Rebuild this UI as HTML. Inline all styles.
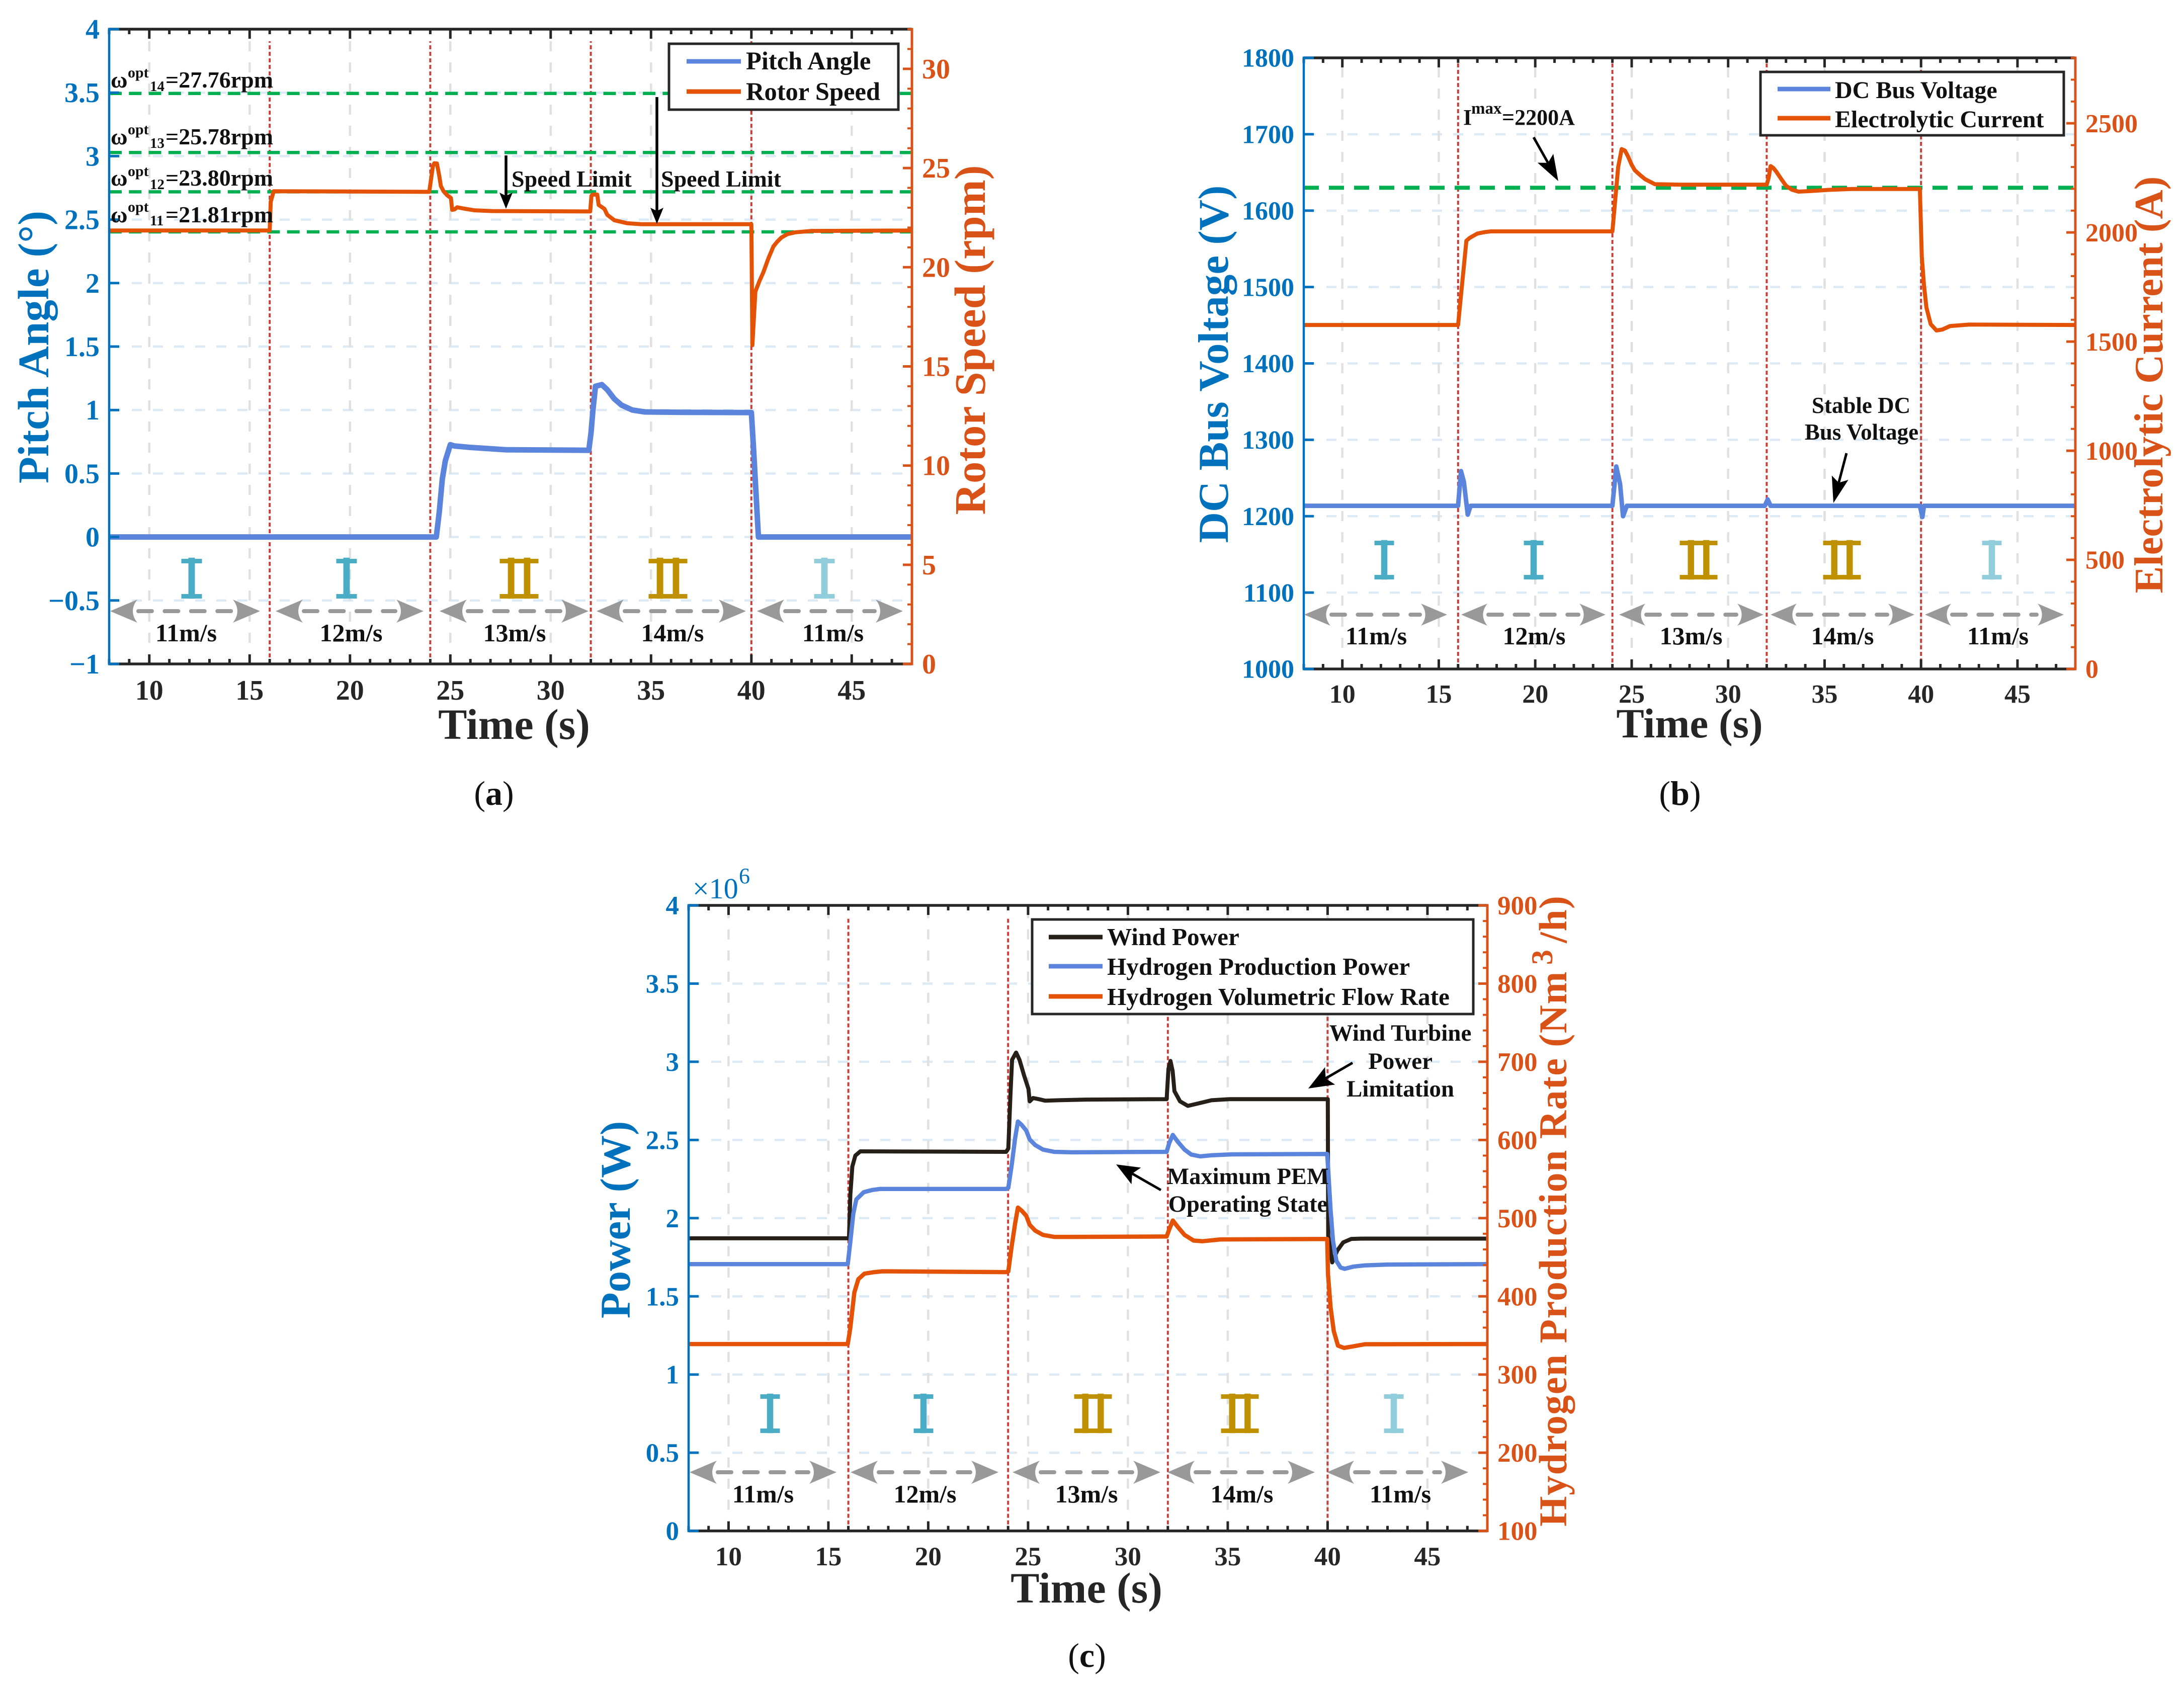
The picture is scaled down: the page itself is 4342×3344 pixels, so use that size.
<!DOCTYPE html>
<html lang="en">
<head>
<meta charset="utf-8">
<title>Wind turbine and hydrogen production response</title>
<style>
html,body{margin:0;padding:0;background:#fff;}
svg{display:block;}
text{font-family:"Liberation Serif","Noto Sans CJK SC",serif;}
.leg{font-weight:bold;fill:#111;font-size:50.5px;}
.anno{font-weight:bold;fill:#111;font-size:46px;}
.spd{font-weight:bold;fill:#111;font-size:50px;text-anchor:middle;}
.time{font-weight:bold;fill:#262626;font-size:86px;text-anchor:middle;}
.yl{font-weight:bold;fill:#0072BD;font-size:87px;text-anchor:middle;}
.yr{font-weight:bold;fill:#D95319;font-size:87px;text-anchor:middle;}
.cap{fill:#111;font-size:68px;text-anchor:middle;}
.reg{font-family:"Noto Sans CJK SC",sans-serif;font-size:108px;text-anchor:middle;stroke-width:2.5px;}
.reg.small{font-size:104px;}
</style>
</head>
<body>
<svg id="figure" xmlns="http://www.w3.org/2000/svg" width="4342" height="3344" viewBox="0 0 4342 3344">
<rect width="4342" height="3344" fill="#fff"/>

<!-- PANEL A -->
<g>
  <g id="marks-a"></g>
  <g id="anno-a"></g>
  <g>
    <rect x="1330" y="87" width="456" height="131" fill="#fff" stroke="#262626" stroke-width="5"/>
    <line x1="1365" x2="1473" y1="122" y2="122" stroke="#5B84DC" stroke-width="9"/>
    <line x1="1365" x2="1473" y1="182" y2="182" stroke="#E35205" stroke-width="9"/>
    <text class="leg" x="1483" y="138">Pitch Angle</text>
    <text class="leg" x="1483" y="199">Rotor Speed</text>
  </g>
  <text class="anno" y="174"><tspan x="220">ω</tspan><tspan x="254" y="154" font-size="30">opt</tspan><tspan x="298" y="181" font-size="29">14</tspan><tspan x="329" y="174">=27.76rpm</tspan></text>
  <text class="anno" y="287"><tspan x="220">ω</tspan><tspan x="254" y="267" font-size="30">opt</tspan><tspan x="298" y="294" font-size="29">13</tspan><tspan x="329" y="287">=25.78rpm</tspan></text>
  <text class="anno" y="369"><tspan x="220">ω</tspan><tspan x="254" y="350" font-size="30">opt</tspan><tspan x="298" y="376" font-size="29">12</tspan><tspan x="329" y="369">=23.80rpm</tspan></text>
  <text class="anno" y="442"><tspan x="220">ω</tspan><tspan x="254" y="421" font-size="30">opt</tspan><tspan x="298" y="448" font-size="29">11</tspan><tspan x="329" y="442">=21.81rpm</tspan></text>
  <text class="anno" x="1017" y="371">Speed Limit</text>
  <text class="anno" x="1314" y="371">Speed Limit</text>
  <text class="reg" fill="#4BACC6" stroke="#4BACC6" x="381" y="1189">Ⅰ</text>
  <text class="reg" fill="#4BACC6" stroke="#4BACC6" x="689" y="1189">Ⅰ</text>
  <text class="reg" fill="#BF9000" stroke="#BF9000" x="1032" y="1189">Ⅱ</text>
  <text class="reg" fill="#BF9000" stroke="#BF9000" x="1328" y="1189">Ⅱ</text>
  <text class="reg" fill="#92CDDC" stroke="#92CDDC" x="1639" y="1189">Ⅰ</text>
  <text class="spd" x="370" y="1275">11m/s</text>
  <text class="spd" x="698" y="1275">12m/s</text>
  <text class="spd" x="1023" y="1275">13m/s</text>
  <text class="spd" x="1337" y="1275">14m/s</text>
  <text class="spd" x="1656" y="1275">11m/s</text>
  <text class="time" x="1022" y="1469">Time (s)</text>
  <text class="yl" transform="translate(96,690) rotate(-90)">Pitch Angle (°)</text>
  <text class="yr" transform="translate(1958,676) rotate(-90)" textLength="695" lengthAdjust="spacingAndGlyphs">Rotor Speed (rpm)</text>
  <text class="cap" x="982" y="1600">(<tspan font-weight="bold">a</tspan>)</text>
</g>

<!-- PANEL B -->
<g>
  <g id="marks-b"></g>
  <g id="anno-b"></g>
  <g>
    <rect x="3500" y="143" width="603" height="126" fill="#fff" stroke="#262626" stroke-width="5"/>
    <line x1="3534" x2="3639" y1="177" y2="177" stroke="#5B84DC" stroke-width="9"/>
    <line x1="3534" x2="3639" y1="235" y2="235" stroke="#E35205" stroke-width="9"/>
    <text class="leg" style="font-size:48px" x="3648" y="195">DC Bus Voltage</text>
    <text class="leg" style="font-size:48px" x="3648" y="253">Electrolytic Current</text>
  </g>
  <text class="anno" style="font-size:44px" y="248"><tspan x="2909">I</tspan><tspan x="2925" y="226" font-size="33">max</tspan><tspan x="2986" y="248">=2200A</tspan></text>
  <text class="anno" style="font-size:45px" x="3700" y="821" text-anchor="middle">Stable DC</text>
  <text class="anno" style="font-size:45px" x="3701" y="874" text-anchor="middle">Bus Voltage</text>
  <text class="reg small" fill="#4BACC6" stroke="#4BACC6" x="2752" y="1151">Ⅰ</text>
  <text class="reg small" fill="#4BACC6" stroke="#4BACC6" x="3049" y="1151">Ⅰ</text>
  <text class="reg small" fill="#BF9000" stroke="#BF9000" x="3377" y="1151">Ⅱ</text>
  <text class="reg small" fill="#BF9000" stroke="#BF9000" x="3662" y="1151">Ⅱ</text>
  <text class="reg small" fill="#92CDDC" stroke="#92CDDC" x="3960" y="1151">Ⅰ</text>
  <text class="spd" x="2736" y="1281">11m/s</text>
  <text class="spd" x="3050" y="1281">12m/s</text>
  <text class="spd" x="3362" y="1281">13m/s</text>
  <text class="spd" x="3663" y="1281">14m/s</text>
  <text class="spd" x="3972" y="1281">11m/s</text>
  <text class="time" style="font-size:83px" x="3359" y="1466">Time (s)</text>
  <text class="yl" style="font-size:85px" transform="translate(2441,724) rotate(-90)">DC Bus Voltage (V)</text>
  <text class="yr" style="font-size:80px" transform="translate(4299,765) rotate(-90)" textLength="829" lengthAdjust="spacingAndGlyphs">Electrolytic Current (A)</text>
  <text class="cap" x="3340" y="1600">(<tspan font-weight="bold">b</tspan>)</text>
</g>

<!-- PANEL C -->
<g>
  <g id="marks-c"></g>
  <g id="anno-c"></g>
  <g>
    <rect x="2052" y="1828" width="877" height="188" fill="#fff" stroke="#262626" stroke-width="5"/>
    <line x1="2085" x2="2192" y1="1863" y2="1863" stroke="#262019" stroke-width="9"/>
    <line x1="2085" x2="2192" y1="1921" y2="1921" stroke="#5B84DC" stroke-width="9"/>
    <line x1="2085" x2="2192" y1="1981" y2="1981" stroke="#E35205" stroke-width="9"/>
    <text class="leg" style="font-size:49.2px" x="2201" y="1879">Wind Power</text>
    <text class="leg" style="font-size:49.2px" x="2201" y="1938">Hydrogen Production Power</text>
    <text class="leg" style="font-size:49.2px" x="2201" y="1998">Hydrogen Volumetric Flow Rate</text>
  </g>
  <text font-size="58" fill="#0072BD" y="1786"><tspan x="1377">×10</tspan><tspan x="1469" y="1756" font-size="44">6</tspan></text>
  <text class="anno" style="font-size:47px" x="2784" y="2069" text-anchor="middle">Wind Turbine</text>
  <text class="anno" style="font-size:47px" x="2784" y="2125" text-anchor="middle">Power</text>
  <text class="anno" style="font-size:47px" x="2784" y="2180" text-anchor="middle">Limitation</text>
  <text class="anno" style="font-size:46.5px" x="2481" y="2354" text-anchor="middle">Maximum PEM</text>
  <text class="anno" style="font-size:46.5px" x="2481" y="2409" text-anchor="middle">Operating State</text>
  <text class="reg small" fill="#4BACC6" stroke="#4BACC6" x="1531" y="2848">Ⅰ</text>
  <text class="reg small" fill="#4BACC6" stroke="#4BACC6" x="1836" y="2848">Ⅰ</text>
  <text class="reg small" fill="#BF9000" stroke="#BF9000" x="2173" y="2848">Ⅱ</text>
  <text class="reg small" fill="#BF9000" stroke="#BF9000" x="2465" y="2848">Ⅱ</text>
  <text class="reg small" fill="#92CDDC" stroke="#92CDDC" x="2771" y="2848">Ⅰ</text>
  <text class="spd" x="1517" y="2987">11m/s</text>
  <text class="spd" x="1839" y="2987">12m/s</text>
  <text class="spd" x="2160" y="2987">13m/s</text>
  <text class="spd" x="2469" y="2987">14m/s</text>
  <text class="spd" x="2784" y="2987">11m/s</text>
  <text class="time" x="2160" y="3186">Time (s)</text>
  <text class="yl" style="font-size:85px" transform="translate(1252,2425) rotate(-90)">Power (W)</text>
  <text class="yr" style="font-size:78px" transform="translate(3114,2408) rotate(-90)" textLength="1254">Hydrogen Production Rate (Nm<tspan dx="12" dy="-28" font-size="60">3</tspan><tspan dx="12" dy="28">/h)</tspan></text>
  <text class="cap" x="2161" y="3314">(<tspan font-weight="bold">c</tspan>)</text>
</g>
</svg>

<script>
/* ---------- shared axis data ---------- */
const timeDomain = [8, 48];
const timeTickLabels = [10, 15, 20, 25, 30, 35, 40, 45];
const switchTimes = [16, 24, 32, 40];

/* ---------- panel (a) data ---------- */
const pitchDomain = [-1, 4];
const pitchTickValues = [-1, -0.5, 0, 0.5, 1, 1.5, 2, 2.5, 3, 3.5, 4];
const rotorDomain = [0, 32];
const rotorTickValues = [0, 5, 10, 15, 20, 25, 30];
const rotorReferenceLevels = [21.78, 23.80, 25.78, 28.76];
const pitchTime = [8, 24.3, 24.45, 24.6, 24.75, 24.92, 25, 25.2, 25.9, 27.8, 31.9, 32.01, 32.1, 32.23, 32.55, 32.82, 33.17, 33.53, 34.07, 34.7, 36.65, 40, 40.1, 40.35, 48];
const pitchValues = [0, 0, 0.2, 0.455, 0.6, 0.687, 0.727, 0.717, 0.707, 0.687, 0.683, 0.82, 0.99, 1.187, 1.2, 1.16, 1.088, 1.039, 1.0, 0.985, 0.982, 0.98, 0.72, 0, 0];
const rotorTime = [8, 16, 16.05, 16.2, 23.95, 24.13, 24.2, 24.33, 24.45, 24.53, 24.67, 24.85, 25.03, 25.09, 25.22, 25.34, 25.65, 26.19, 27.09, 31.97, 32.03, 32.1, 32.32, 32.39, 32.68, 32.82, 33.17, 33.8, 34.5, 40, 40.05, 40.2, 40.4, 40.6, 40.85, 41.1, 41.3, 41.5, 41.8, 42.2, 43, 48];
const rotorValues = [21.85, 21.85, 23.3, 23.83, 23.8, 25.09, 25.24, 25.23, 24.59, 24.09, 23.82, 23.62, 23.49, 22.89, 22.92, 23.02, 22.96, 22.87, 22.83, 22.81, 23.6, 23.66, 23.66, 23.14, 22.94, 22.64, 22.37, 22.22, 22.17, 22.17, 16.07, 18.78, 19.3, 19.75, 20.45, 21.05, 21.3, 21.5, 21.67, 21.76, 21.83, 21.85];

/* ---------- panel (b) data ---------- */
const voltageDomain = [1000, 1800];
const voltageTickValues = [1000, 1100, 1200, 1300, 1400, 1500, 1600, 1700, 1800];
const currentDomain = [0, 2800];
const currentTickValues = [0, 500, 1000, 1500, 2000, 2500];
const currentLimitLevels = [2205];
const busTime = [8, 16, 16.15, 16.3, 16.5, 16.65, 24, 24.2, 24.4, 24.55, 24.75, 31.9, 32.05, 32.2, 39.94, 40.07, 40.15, 48];
const busValues = [1213.6, 1213.6, 1259, 1245, 1202, 1213.6, 1213.6, 1265, 1242, 1200, 1213.6, 1213.6, 1222, 1213.6, 1213.6, 1199, 1213.6, 1213.6];
const currentTime = [8, 16, 16.43, 16.6, 17, 17.4, 17.7, 24, 24.3, 24.48, 24.65, 24.8, 25, 25.16, 25.45, 25.7, 26.2, 27.5, 32, 32.1, 32.2, 32.35, 32.5, 32.75, 33, 33.3, 33.65, 34.3, 35.2, 36.4, 39.94, 40.04, 40.15, 40.28, 40.5, 40.8, 41.1, 41.5, 42.5, 48];
const currentValues = [1576, 1576, 1962, 1975, 1995, 2002, 2005, 2005, 2300, 2382, 2375, 2350, 2310, 2285, 2262, 2244, 2221, 2219, 2219, 2250, 2304, 2295, 2278, 2245, 2214, 2196, 2187, 2190, 2195, 2199, 2199, 1891, 1760, 1656, 1580, 1551, 1555, 1571, 1578, 1576];

/* ---------- panel (c) data ---------- */
const powerDomain = [0, 4];
const powerTickValues = [0, 0.5, 1, 1.5, 2, 2.5, 3, 3.5, 4];
const flowDomain = [100, 900];
const flowTickValues = [100, 200, 300, 400, 500, 600, 700, 800, 900];
const windTime = [8, 16.03, 16.1, 16.2, 16.35, 16.6, 23.9, 24.01, 24.12, 24.2, 24.4, 24.57, 24.8, 25.02, 25.08, 25.25, 25.53, 25.86, 26.54, 27.89, 31.94, 32.03, 32.13, 32.24, 32.33, 32.61, 33, 33.51, 34.19, 35.08, 40.01, 40.03, 40.23, 40.48, 40.78, 41.19, 41.7, 48];
const windValues = [1.871, 1.871, 2.15, 2.33, 2.4, 2.427, 2.424, 2.445, 2.797, 3.013, 3.059, 3.013, 2.912, 2.826, 2.747, 2.768, 2.761, 2.751, 2.754, 2.758, 2.761, 2.955, 3.005, 2.941, 2.812, 2.747, 2.718, 2.733, 2.754, 2.761, 2.761, 1.888, 1.717, 1.792, 1.845, 1.867, 1.869, 1.869];
const hydrogenPowerTime = [8, 15.97, 16.1, 16.25, 16.4, 16.77, 17.2, 17.6, 23.9, 24.01, 24.18, 24.35, 24.49, 24.68, 24.91, 25.08, 25.36, 25.75, 26.31, 27.21, 31.94, 32.07, 32.25, 32.5, 32.84, 33.17, 33.62, 34.19, 35.2, 39.98, 40.03, 40.15, 40.27, 40.44, 40.65, 40.86, 41.28, 41.87, 42.96, 48];
const hydrogenPowerValues = [1.706, 1.706, 1.85, 2.03, 2.12, 2.166, 2.18, 2.187, 2.187, 2.194, 2.338, 2.51, 2.618, 2.596, 2.56, 2.503, 2.467, 2.438, 2.424, 2.421, 2.424, 2.481, 2.532, 2.488, 2.438, 2.407, 2.395, 2.402, 2.408, 2.41, 2.309, 2.049, 1.856, 1.727, 1.684, 1.676, 1.69, 1.698, 1.703, 1.706];
const hydrogenFlowTime = [8, 15.97, 16.1, 16.3, 16.5, 16.8, 17.3, 17.7, 23.9, 24.01, 24.18, 24.35, 24.49, 24.68, 24.91, 25.08, 25.36, 25.75, 26.31, 27.21, 31.94, 32.07, 32.25, 32.5, 32.84, 33.29, 33.74, 34.63, 39.98, 40.02, 40.15, 40.31, 40.52, 40.82, 41.28, 41.87, 48];
const hydrogenFlowValues = [339, 339, 360, 405, 422, 429, 431, 432, 431, 432, 464, 493, 513.5, 509.5, 503, 491.5, 484, 478.5, 476, 476, 476.5, 485.7, 497, 488.6, 478.5, 471.3, 470.5, 472.8, 473.3, 428, 385.4, 355.4, 337, 334, 336, 338.7, 339];

/* ---------- rendering ---------- */
const SVGNS = 'http://www.w3.org/2000/svg';
const BLUE = '#0072BD', ORANGE = '#D95319', INK = '#262626';
const SERIES_BLUE = '#5B84DC', SERIES_ORANGE = '#E35205', SERIES_BLACK = '#262019', GREEN = '#00B050';

function scale(domain, a, b) {
  return function (v) { return a + (v - domain[0]) / (domain[1] - domain[0]) * (b - a); };
}
function drawLine(parent, x1, y1, x2, y2, stroke, width, dash, name) {
  const el = document.createElementNS(SVGNS, 'line');
  el.setAttribute('x1', x1);
  el.setAttribute('y1', y1);
  el.setAttribute('x2', x2);
  el.setAttribute('y2', y2);
  el.setAttribute('stroke', stroke);
  el.setAttribute('stroke-width', width);
  if (dash) el.setAttribute('stroke-dasharray', dash);
  
  
  parent.appendChild(el);
  return el;
}
function drawLabel(parent, x, y, content, size, fill, anchor, name) {
  const el = document.createElementNS(SVGNS, 'text');
  el.setAttribute('x', x);
  el.setAttribute('y', y);
  el.setAttribute('font-size', size);
  el.setAttribute('font-weight', 'bold');
  el.setAttribute('fill', fill);
  el.setAttribute('text-anchor', anchor);
  el.textContent = content;
  
  
  parent.appendChild(el);
  return el;
}
function drawSeries(parent, times, values, xf, yf, stroke, width, name) {
  const el = document.createElementNS(SVGNS, 'polyline');
  el.setAttribute('points', times.map(function (t, i) { return xf(t).toFixed(1) + ',' + yf(values[i]).toFixed(1); }).join(' '));
  el.setAttribute('fill', 'none');
  el.setAttribute('stroke', stroke);
  el.setAttribute('stroke-width', width);
  el.setAttribute('stroke-linejoin', 'round');
  
  
  parent.appendChild(el);
  return el;
}
function formatTick(v) {
  return v < 0 ? '\u2212' + Math.abs(v) : String(v);
}
function range(from, to, step) {
  const out = [];
  for (let i = 0; from + i * step <= to + 1e-9; i++) out.push(from + i * step);
  return out;
}
function drawFrame(g, p, cfg) {
  const xf = scale(timeDomain, p.left, p.right);
  const yl = scale(cfg.leftDomain, p.bottom, p.top);
  const yr = scale(cfg.rightDomain, p.bottom, p.top);
  /* grid */
  cfg.leftTicks.forEach(function (v) {
    if (v === cfg.leftDomain[0] || v === cfg.leftDomain[1]) return;
    const rule = drawLine(g, p.left, yl(v), p.right, yl(v), '#DCEAF6', 4.5, '20 22', 'y-grid-line');
    rule.setAttribute('stroke-dashoffset', '39');
  });
  timeTickLabels.forEach(function (v) {
    drawLine(g, xf(v), p.bottom, xf(v), p.top, '#E0E0E0', 4.5, '20 22', 'x-grid-line');
  });
  /* mode switching instants */
  switchTimes.forEach(function (v) {
    drawLine(g, xf(v), p.bottom, xf(v), p.top + p.switchInset, '#C5413B', 4, '8 5', 'wind-step-line');
  });
  return { xf: xf, yl: yl, yr: yr };
}
function drawAxes(g, p, cfg, s) {
  /* top and bottom rules */
  drawLine(g, p.left, p.top, p.right, p.top, INK, 5.5, null, 'top-axis-line');
  drawLine(g, p.left, p.bottom, p.right, p.bottom, INK, 5.5, null, 'x-axis-line');
  range(timeDomain[0], timeDomain[1], 1).forEach(function (v) {
    const major = timeTickLabels.indexOf(v) >= 0;
    const len = major ? 19 : 10;
    drawLine(g, s.xf(v), p.bottom, s.xf(v), p.bottom - len, INK, 5, null, 'x-tick-bottom');
    drawLine(g, s.xf(v), p.top, s.xf(v), p.top + len, INK, 5, null, 'x-tick-top');
  });
  timeTickLabels.forEach(function (v) {
    drawLabel(g, s.xf(v), p.tickBaseline, String(v), p.font, INK, 'middle', 'x-tick-label');
  });
  /* left axis */
  drawLine(g, p.left, p.top - 2.5, p.left, p.bottom + 2.5, BLUE, 4.5, null, 'left-axis-line');
  cfg.leftTicks.forEach(function (v) {
    drawLine(g, p.left, s.yl(v), p.left + 20, s.yl(v), BLUE, 5, null, 'left-tick');
    drawLabel(g, p.left - 19, s.yl(v) + p.font * 0.34, formatTick(v), p.font, BLUE, 'end', 'left-tick-label');
  });
  /* right axis */
  drawLine(g, p.right, p.top - 2.5, p.right, p.bottom + 2.5, ORANGE, 5, null, 'right-axis-line');
  range(cfg.rightDomain[0], cfg.rightDomain[1], cfg.rightMinor).forEach(function (v) {
    drawLine(g, p.right, s.yr(v), p.right - 9, s.yr(v), ORANGE, 4, null, 'right-minor-tick');
  });
  cfg.rightTicks.forEach(function (v) {
    drawLine(g, p.right, s.yr(v), p.right - 18, s.yr(v), ORANGE, 5, null, 'right-tick');
    drawLabel(g, p.right + 20, s.yr(v) + p.font * 0.34, String(v), p.font, ORANGE, 'start', 'right-tick-label');
  });
}
function doubleArrow(parent, x0, x1, y, len, half) {
  const group = document.createElementNS(SVGNS, 'g');
  
  
  const head = document.createElementNS(SVGNS, 'path');
  const d = 'M' + x0 + ' ' + y + 'L' + (x0 + len) + ' ' + (y - half) + 'Q' + (x0 + len * 0.67) + ' ' + y + ' ' + (x0 + len) + ' ' + (y + half) + 'Z' +
            'M' + x1 + ' ' + y + 'L' + (x1 - len) + ' ' + (y - half) + 'Q' + (x1 - len * 0.67) + ' ' + y + ' ' + (x1 - len) + ' ' + (y + half) + 'Z';
  head.setAttribute('d', d);
  head.setAttribute('fill', '#999999');
  group.appendChild(head);
  const shaft = document.createElementNS(SVGNS, 'line');
  shaft.setAttribute('x1', x0 + len + 2);
  shaft.setAttribute('x2', x1 - len - 2);
  shaft.setAttribute('y1', y);
  shaft.setAttribute('y2', y);
  shaft.setAttribute('stroke', '#999999');
  shaft.setAttribute('stroke-width', 8);
  shaft.setAttribute('stroke-linecap', 'round');
  shaft.setAttribute('stroke-dasharray', '27 25.4');
  group.appendChild(shaft);
  parent.appendChild(group);
}
function blackArrow(parent, x0, y0, x1, y1, len, half, width) {
  const a = Math.atan2(y1 - y0, x1 - x0), ux = Math.cos(a), uy = Math.sin(a);
  const bx = x1 - ux * len, by = y1 - uy * len;
  const nx = x1 - ux * len * 0.8, ny = y1 - uy * len * 0.8;
  const group = document.createElementNS(SVGNS, 'g');
  
  
  const shaft = document.createElementNS(SVGNS, 'line');
  shaft.setAttribute('x1', x0);
  shaft.setAttribute('y1', y0);
  shaft.setAttribute('x2', nx);
  shaft.setAttribute('y2', ny);
  shaft.setAttribute('stroke', '#000');
  shaft.setAttribute('stroke-width', width);
  group.appendChild(shaft);
  const head = document.createElementNS(SVGNS, 'path');
  head.setAttribute('d', 'M' + x1 + ' ' + y1 + 'L' + (bx - uy * half) + ' ' + (by + ux * half) + 'L' + nx + ' ' + ny + 'L' + (bx + uy * half) + ' ' + (by - ux * half) + 'Z');
  head.setAttribute('fill', '#000');
  group.appendChild(head);
  parent.appendChild(group);
}

/* panel (a) */
(function () {
  const g = document.getElementById('marks-a');
  const p = { left: 217, right: 1813, top: 58, bottom: 1320, switchInset: 24, tickBaseline: 1391, font: 56 };
  const cfg = { leftDomain: pitchDomain, leftTicks: pitchTickValues, rightDomain: rotorDomain, rightTicks: rotorTickValues, rightMinor: 1 };
  const s = drawFrame(g, p, cfg);
  rotorReferenceLevels.forEach(function (v) {
    drawLine(g, p.left, s.yr(v), p.right, s.yr(v), GREEN, 6.5, '25 14.3', 'rated-speed-line');
  });
  drawSeries(g, pitchTime, pitchValues, s.xf, s.yl, SERIES_BLUE, 11, 'pitch-angle-line');
  drawSeries(g, rotorTime, rotorValues, s.xf, s.yr, SERIES_ORANGE, 8, 'rotor-speed-line');
  drawAxes(g, p, cfg, s);
  const a = document.getElementById('anno-a');
  blackArrow(a, 1006, 309, 1006, 415, 32, 13, 5.5);
  blackArrow(a, 1306, 193, 1306, 445, 32, 13, 5.5);
  doubleArrow(a, 219, 517, 1215, 54, 23);
  doubleArrow(a, 548, 842, 1215, 54, 23);
  doubleArrow(a, 874, 1170, 1215, 54, 23);
  doubleArrow(a, 1186, 1483, 1215, 54, 23);
  doubleArrow(a, 1505, 1795, 1215, 54, 23);
})();

/* panel (b) */
(function () {
  const g = document.getElementById('marks-b');
  const p = { left: 2592, right: 4126, top: 115, bottom: 1330, switchInset: 6, tickBaseline: 1397, font: 52 };
  const cfg = { leftDomain: voltageDomain, leftTicks: voltageTickValues, rightDomain: currentDomain, rightTicks: currentTickValues, rightMinor: 100 };
  const s = drawFrame(g, p, cfg);
  currentLimitLevels.forEach(function (v) {
    drawLine(g, p.left, s.yr(v), p.right, s.yr(v), GREEN, 8, '30 20', 'max-current-line');
  });
  drawSeries(g, busTime, busValues, s.xf, s.yl, SERIES_BLUE, 9, 'dc-bus-voltage-line');
  drawSeries(g, currentTime, currentValues, s.xf, s.yr, SERIES_ORANGE, 8, 'electrolytic-current-line');
  drawAxes(g, p, cfg, s);
  const a = document.getElementById('anno-b');
  blackArrow(a, 3049, 273, 3098, 360, 52, 18, 5);
  blackArrow(a, 3671, 901, 3645, 1000, 52, 17, 5);
  doubleArrow(a, 2593, 2877, 1222, 52, 22);
  doubleArrow(a, 2905, 3192, 1222, 52, 22);
  doubleArrow(a, 3219, 3506, 1222, 52, 22);
  doubleArrow(a, 3520, 3806, 1222, 52, 22);
  doubleArrow(a, 3827, 4103, 1222, 52, 22);
})();

/* panel (c) */
(function () {
  const g = document.getElementById('marks-c');
  const p = { left: 1369, right: 2957, top: 1800, bottom: 3043.6, switchInset: 25, tickBaseline: 3112, font: 53 };
  const cfg = { leftDomain: powerDomain, leftTicks: powerTickValues, rightDomain: flowDomain, rightTicks: flowTickValues, rightMinor: 20 };
  const s = drawFrame(g, p, cfg);
  drawSeries(g, windTime, windValues, s.xf, s.yl, SERIES_BLACK, 8, 'wind-power-line');
  drawSeries(g, hydrogenPowerTime, hydrogenPowerValues, s.xf, s.yl, SERIES_BLUE, 8.5, 'hydrogen-power-line');
  drawSeries(g, hydrogenFlowTime, hydrogenFlowValues, s.xf, s.yr, SERIES_ORANGE, 8.5, 'hydrogen-flow-line');
  drawAxes(g, p, cfg, s);
  const a = document.getElementById('anno-c');
  blackArrow(a, 2689, 2113, 2601, 2164, 50, 20, 5);
  blackArrow(a, 2308, 2366, 2219, 2315, 46, 19, 5);
  doubleArrow(a, 1371, 1663, 2927, 54, 23);
  doubleArrow(a, 1691, 1985, 2927, 54, 23);
  doubleArrow(a, 2013, 2307, 2927, 54, 23);
  doubleArrow(a, 2321, 2614, 2927, 54, 23);
  doubleArrow(a, 2638, 2919, 2927, 54, 23);
})();

/* slab caps on the regime numerals */
document.querySelectorAll('text.reg').forEach(function (label) {
  const x = parseFloat(label.getAttribute('x'));
  const y = parseFloat(label.getAttribute('y'));
  const small = label.classList.contains('small');
  const double = label.textContent === '\u2161';
  const width = double ? (small ? 75 : 77) : (small ? 39 : 41);
  const tall = small ? 76 : 78;
  [y - tall, y - 8].forEach(function (top) {
    const cap = document.createElementNS(SVGNS, 'rect');
    cap.setAttribute('x', x - width / 2);
    cap.setAttribute('y', top);
    cap.setAttribute('width', width);
    cap.setAttribute('height', 9);
    cap.setAttribute('fill', label.getAttribute('fill'));
    
    
    label.parentNode.insertBefore(cap, label);
  });
});
</script>
</body>
</html>
